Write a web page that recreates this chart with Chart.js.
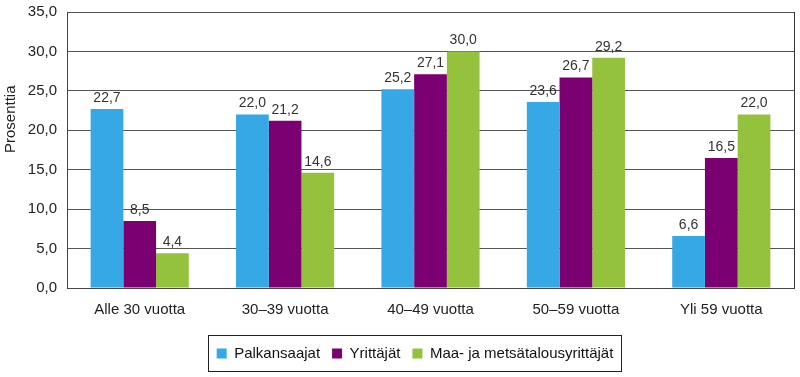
<!DOCTYPE html>
<html><head><meta charset="utf-8">
<script src="https://cdn.jsdelivr.net/npm/chart.js@4/dist/chart.umd.min.js"></script>
<style>html,body{margin:0;padding:0;background:#fff}#w{width:800px;height:377px}</style>
</head><body><div id="w"><canvas id="c"></canvas></div>
<script>
const categories = ["Alle 30 vuotta", "30–39 vuotta", "40–49 vuotta", "50–59 vuotta", "Yli 59 vuotta"];
const palkansaajat = [22.7, 22.0, 25.2, 23.6, 6.6];
const yrittajat = [8.5, 21.2, 27.1, 26.7, 16.5];
const maaMetsa = [4.4, 14.6, 30.0, 29.2, 22.0];
const seriesNames = ["Palkansaajat", "Yrittäjät", "Maa- ja metsätalousyrittäjät"];
const yTicks = [0, 5, 10, 15, 20, 25, 30, 35];
const yTitle = "Prosenttia";

const FONT = "'Liberation Sans', Arial, sans-serif";
const fmt = v => v.toFixed(1).replace('.', ',');

const labelsPlugin = {
  id: 'vals',
  afterLayout(chart) {
    const lg = chart.legend;
    if (lg) { lg.left += 18; lg.right += 18; }
  },
  afterDatasetsDraw(chart) {
    const ctx = chart.ctx;
    ctx.save();
    ctx.font = "14px " + FONT;
    ctx.fillStyle = '#333';
    ctx.textAlign = 'center';
    ctx.textBaseline = 'bottom';
    chart.data.datasets.forEach((ds, i) => {
      chart.getDatasetMeta(i).data.forEach((bar, j) => {
        ctx.fillText(fmt(ds.data[j]), bar.x, bar.y - 4);
      });
    });
    ctx.restore();
  }
};
const framePlugin = {
  id: 'frame',
  afterDraw(chart) {
    const ctx = chart.ctx, a = chart.chartArea;
    ctx.save();
    ctx.strokeStyle = '#333';
    ctx.lineWidth = 1;
    ctx.beginPath();
    ctx.moveTo(Math.round(a.right) + 0.5, a.top);
    ctx.lineTo(Math.round(a.right) + 0.5, a.bottom);
    ctx.stroke();
    ctx.font = "15px " + FONT;
    ctx.fillStyle = '#222';
    ctx.translate(11, 153);
    ctx.rotate(-Math.PI / 2);
    ctx.textAlign = 'left';
    ctx.textBaseline = 'middle';
    ctx.fillText(yTitle, 0, 0);
    ctx.setTransform(1, 0, 0, 1, 0, 0);
    const hb = chart.legend.legendHitBoxes;
    if (hb && hb.length) {
      let l = Infinity, r = -Infinity, t = Infinity, b = -Infinity;
      hb.forEach(h => { l = Math.min(l, h.left); r = Math.max(r, h.left + h.width); t = Math.min(t, h.top); b = Math.max(b, h.top + h.height); });
      ctx.strokeStyle = '#222';
      ctx.strokeRect(Math.round(l - 9) + 0.5, Math.round(t - 11) + 0.5, Math.round(r - l + 16), Math.round(b - t + 21));
    }
    ctx.restore();
  }
};

new Chart(document.getElementById('c'), {
  type: 'bar',
  data: {
    labels: categories,
    datasets: [
      { label: seriesNames[0], data: palkansaajat, backgroundColor: '#35A8E5' },
      { label: seriesNames[1], data: yrittajat, backgroundColor: '#7B0071' },
      { label: seriesNames[2], data: maaMetsa, backgroundColor: '#95C23C' }
    ]
  },
  options: {
    responsive: true,
    maintainAspectRatio: false,
    animation: false,
    devicePixelRatio: 1,
    layout: { padding: { top: 0, right: 6, left: 0, bottom: 6 } },
    datasets: { bar: { categoryPercentage: 0.675, barPercentage: 1.0 } },
    plugins: {
      tooltip: { enabled: false },
      legend: {
        position: 'bottom',
        labels: {
          font: { family: FONT, size: 15 },
          color: '#111',
          boxWidth: 10, boxHeight: 10,
          padding: 12
        }
      }
    },
    scales: {
      x: {
        grid: { display: false, drawTicks: false },
        border: { color: '#444', width: 1 },
        ticks: { font: { family: FONT, size: 15 }, color: '#222', padding: 13 },
        afterFit: s => { s.height = 46; }
      },
      y: {
        min: 0, max: 35,
        afterBuildTicks: s => { s.ticks = yTicks.map(v => ({ value: v })); },
        grid: { color: '#555', drawTicks: false },
        border: { color: '#444', width: 1 },
        ticks: { font: { family: FONT, size: 15 }, color: '#222', padding: 10, callback: v => fmt(v) },
        afterFit: s => { s.width = 67; s.paddingTop = 12; }
      }
    }
  },
  plugins: [labelsPlugin, framePlugin]
});
</script>
</body></html>
